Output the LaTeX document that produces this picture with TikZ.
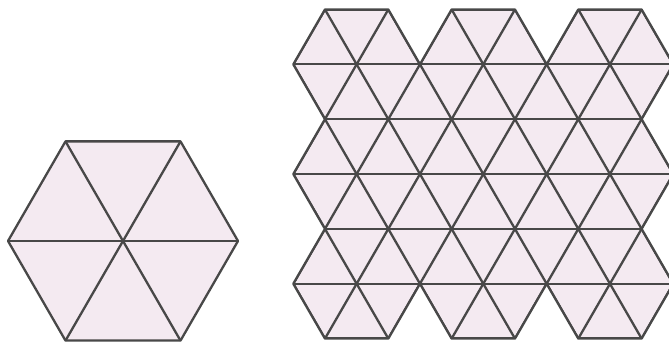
\documentclass[tikz,border=0pt]{standalone}
\usepackage{tikz}
\definecolor{tilefill}{RGB}{244,234,241}
\definecolor{tileline}{RGB}{72,72,72}
\newcommand{\patchoutline}{(0,1) -- (0.5,0) -- (1.5,0) -- (2,1) -- (2.5,0) -- (3.5,0) -- (4,1) -- (4.5,0) -- (5.5,0) -- (6,1) -- (5.5,2) -- (6,3) -- (5.5,4) -- (6,5) -- (5.5,6) -- (4.5,6) -- (4,5) -- (3.5,6) -- (2.5,6) -- (2,5) -- (1.5,6) -- (0.5,6) -- (0,5) -- (0.5,4) -- (0,3) -- (0.5,2) -- cycle}

\begin{document}
\begin{tikzpicture}[x=1pt,y=1pt]
\useasboundingbox (0,0) rectangle (669,345);
% single hexagon, six triangles
\draw[line width=2.3pt, tileline, fill=tilefill, line join=round] (8,104) -- (65.5,203.6) -- (180.5,203.6) -- (238,104) -- (180.5,4.4) -- (65.5,4.4) -- cycle;
\draw[line width=2.3pt, tileline] (8,104) -- (238,104);
\draw[line width=2.3pt, tileline] (65.5,203.6) -- (180.5,4.4);
\draw[line width=2.3pt, tileline] (180.5,203.6) -- (65.5,4.4);
% tiled patch
\begin{scope}[shift={(293.3,6.4)}, x=63.33pt, y=54.85pt]
\fill[tilefill] \patchoutline;
\begin{scope}
\clip \patchoutline;
\foreach \k in {0,...,6}
  \draw[line width=2.3pt, tileline] (-1,\k) -- (7,\k);
\foreach \a in {-2.5,-1.5,...,5.5}
  \draw[line width=2.3pt, tileline] (\a,0) -- ++(3,6);
\foreach \a in {0.5,1.5,...,8.5}
  \draw[line width=2.3pt, tileline] (\a,0) -- ++(-3,6);
\end{scope}
\draw[line width=2.3pt, tileline, line join=round] \patchoutline;
\end{scope}
\end{tikzpicture}
\end{document}
